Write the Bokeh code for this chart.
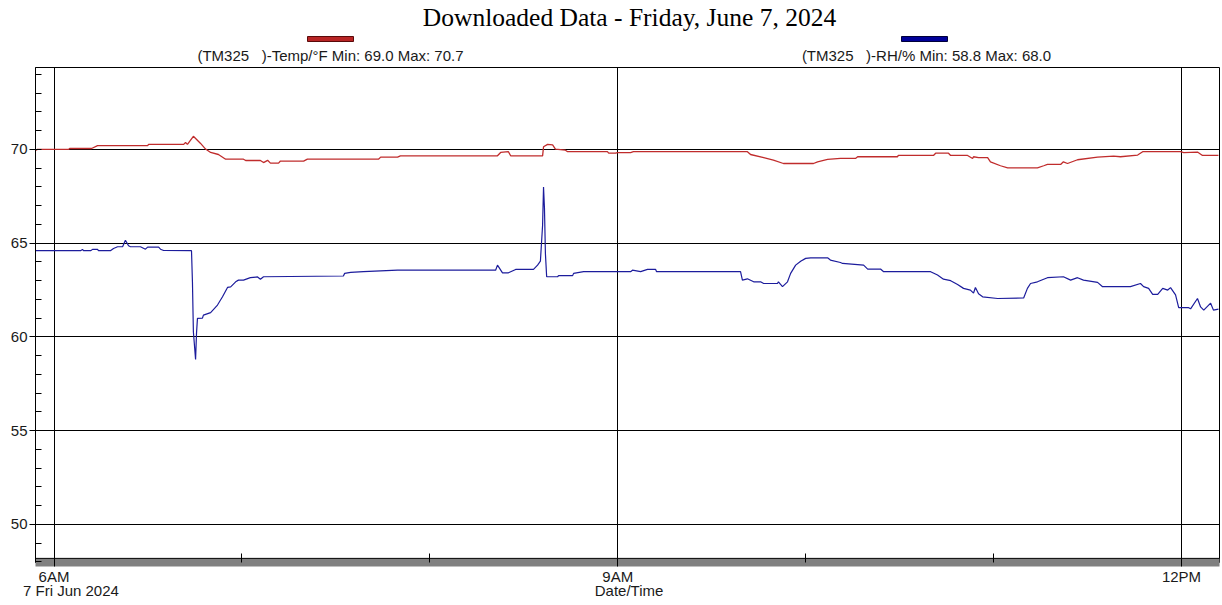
from bokeh.plotting import figure
from bokeh.layouts import column
from bokeh.models import (Range1d, FixedTicker, SingleIntervalTicker, LinearAxis,
                          Grid, Span, ColumnDataSource)
from bokeh.core.properties import value
from bokeh.embed import file_html
from bokeh.resources import INLINE

# ---------------- data ----------------
title_text = "Downloaded Data - Friday, June 7, 2024"
NB = "\u00a0"
series_labels = ["(TM325" + NB * 3 + ")-Temp/°F Min: 69.0 Max: 70.7",
                 "(TM325" + NB * 3 + ")-RH/% Min: 58.8 Max: 68.0"]
date_label = "7 Fri Jun 2024"
x_axis_title = "Date/Time"

major_hours = [6, 9, 12]
major_hour_labels = ["6AM", "9AM", "12PM"]
minor_hours = [7, 8, 10, 11]

# minutes after 06:00 and Temperature (°F)
temp_minutes = [-5.9, -5.3, 4.6, 5.0, 12.0, 13.9, 29.9, 30.2, 41.4, 42.0,
                42.6, 44.5, 46.8, 48.4, 50.0, 52.5, 54.8, 60.5, 61.2, 65.9,
                66.9, 68.2, 69.1, 71.7, 72.3, 79.7, 80.9, 103.6, 104.3, 109.7,
                110.6, 141.6, 142.6, 145.1, 145.8, 156.0, 156.3, 157.6, 159.2, 160.1,
                163.3, 164.0, 176.7, 177.1, 179.3, 179.9, 184.1, 185.0, 221.4, 222.4,
                226.6, 229.7, 232.9, 242.5, 243.8, 247.0, 251.1, 255.9, 256.6, 269.3,
                269.6, 280.8, 281.5, 285.6, 286.3, 291.7, 293.3, 293.6, 295.2, 298.1,
                299.0, 302.2, 304.5, 314.0, 316.0, 317.2, 321.4, 322.3, 323.6, 326.8,
                333.2, 338.3, 340.5, 346.0, 347.6, 359.7, 360.7, 365.1, 366.7, 371.8]
temp_values = [69.95, 70.0, 70.0, 70.05, 70.05, 70.2, 70.2, 70.27, 70.27, 70.37,
               70.27, 70.7, 70.32, 70.02, 69.84, 69.73, 69.48, 69.48, 69.41, 69.41,
               69.3, 69.42, 69.27, 69.27, 69.38, 69.38, 69.48, 69.48, 69.59, 69.59,
               69.66, 69.66, 69.84, 69.88, 69.66, 69.66, 70.14, 70.27, 70.24, 70.02,
               69.96, 69.88, 69.88, 69.8, 69.8, 69.83, 69.83, 69.88, 69.88, 69.73,
               69.56, 69.43, 69.25, 69.25, 69.34, 69.47, 69.52, 69.52, 69.61, 69.61,
               69.68, 69.68, 69.8, 69.8, 69.68, 69.68, 69.52, 69.61, 69.56, 69.56,
               69.34, 69.13, 69.02, 69.02, 69.13, 69.2, 69.2, 69.34, 69.25, 69.45,
               69.59, 69.64, 69.61, 69.7, 69.88, 69.88, 69.83, 69.86, 69.68, 69.68]

# minutes after 06:00 and Relative humidity (%)
rh_minutes = [-5.9, 8.5, 9.1, 9.4, 11.7, 12.3, 13.9, 14.2, 18.0, 19.0,
              20.3, 21.9, 22.8, 23.8, 24.4, 27.6, 29.2, 29.9, 33.4, 34.0,
              35.0, 43.9, 44.2, 44.5, 45.2, 45.5, 45.8, 47.4, 47.7, 50.0,
              52.2, 53.8, 55.4, 56.4, 58.0, 58.9, 60.5, 62.7, 65.0, 65.9,
              66.9, 92.4, 92.8, 94.7, 98.8, 109.7, 141.0, 141.6, 143.2, 145.1,
              147.4, 153.1, 154.4, 155.3, 156.0, 156.3, 156.6, 156.9, 157.3, 160.8,
              161.1, 165.6, 165.9, 169.1, 184.1, 184.7, 187.3, 189.5, 192.1, 192.4,
              219.2, 219.8, 221.4, 223.4, 225.6, 226.6, 231.0, 231.3, 232.6, 234.2,
              235.2, 236.8, 238.4, 240.0, 241.6, 247.0, 247.9, 251.1, 251.8, 258.5,
              259.8, 263.9, 264.9, 279.9, 282.1, 284.0, 286.3, 288.5, 290.4, 292.6,
              293.6, 294.2, 295.2, 296.5, 301.3, 309.6, 310.8, 311.8, 314.0, 317.2,
              322.3, 324.6, 326.8, 328.7, 333.2, 334.8, 343.7, 346.9, 347.9, 349.5,
              350.8, 352.4, 354.0, 355.6, 356.5, 358.1, 359.1, 362.3, 362.9, 365.1,
              366.1, 367.1, 369.3, 370.2, 371.8]
rh_values = [64.6, 64.6, 64.67, 64.6, 64.6, 64.67, 64.67, 64.6, 64.6, 64.72,
             64.81, 64.81, 65.16, 64.86, 64.81, 64.81, 64.68, 64.79, 64.79, 64.68,
             64.61, 64.6, 62.94, 60.28, 58.8, 60.19, 60.99, 61.0, 61.16, 61.3,
             61.7, 62.14, 62.64, 62.67, 62.94, 63.03, 63.03, 63.16, 63.2, 63.08,
             63.21, 63.25, 63.39, 63.44, 63.48, 63.56, 63.56, 63.83, 63.42, 63.42,
             63.6, 63.6, 63.83, 64.04, 65.96, 68.0, 66.85, 64.45, 63.21, 63.21,
             63.27, 63.27, 63.39, 63.48, 63.48, 63.56, 63.48, 63.6, 63.6, 63.48,
             63.48, 63.03, 63.1, 62.94, 62.94, 62.85, 62.85, 62.94, 62.68, 62.94,
             63.39, 63.83, 64.04, 64.19, 64.22, 64.22, 64.1, 63.97, 63.92, 63.83,
             63.62, 63.62, 63.48, 63.48, 63.3, 63.08, 63.0, 62.8, 62.59, 62.5,
             62.34, 62.64, 62.3, 62.14, 62.05, 62.08, 62.59, 62.85, 62.94, 63.16,
             63.21, 63.03, 63.16, 63.03, 62.91, 62.68, 62.68, 62.85, 62.68, 62.59,
             62.27, 62.27, 62.59, 62.5, 62.63, 62.24, 61.56, 61.56, 61.5, 62.05,
             61.6, 61.43, 61.8, 61.43, 61.48]

# ---------------- styling ----------------
RED = "#C02C2C"
BLUE = "#1C1C9C"
SERIES_COLORS = [RED, BLUE]
BAR_FILL = ["#B82424", "#000099"]
BAR_EDGE = ["#5a0a0a", "#00003a"]
SANS = "Liberation Sans"
SERIF = "Liberation Serif"
TXT = "#1a1a1a"
W = 1222
TOP_H = 67
MAIN_H = 605 - TOP_H
FRAME_L, FRAME_R = 35, 1219

# ---------------- header: title and legend ----------------
# the column aligns this figure's frame with the chart frame below,
# so its x range is expressed in page pixels of that frame
head = figure(width=W, height=TOP_H, output_backend="svg", toolbar_location=None,
              x_range=Range1d(FRAME_L, FRAME_R), y_range=Range1d(TOP_H, 0),
              x_axis_type=None, y_axis_type=None,
              min_border_left=0, min_border_right=0, min_border_top=0,
              min_border_bottom=0)
head.outline_line_color = None
head.grid.visible = False
head.background_fill_color = "white"
head.border_fill_color = "white"

head.text(x=[629], y=[17], text=[title_text], text_align="center",
          text_baseline="middle", text_font=value(SERIF),
          text_font_size="25.5px", text_color="black")
legend_cx = [330, 924]
head.quad(left=[c - 23 for c in legend_cx], right=[c + 23 for c in legend_cx],
          top=[36, 36], bottom=[41, 41], fill_color=BAR_FILL, line_color=BAR_EDGE,
          line_width=1)
head.text(x=[330, 926], y=[55, 55], text=series_labels, text_align="center",
          text_baseline="middle", text_font=value(SANS),
          text_font_size="15px", text_color=TXT)

# ---------------- main chart ----------------
temp_src = ColumnDataSource(dict(hour=[6 + m / 60 for m in temp_minutes], v=temp_values))
rh_src = ColumnDataSource(dict(hour=[6 + m / 60 for m in rh_minutes], v=rh_values))

Y_TOP, Y_BOT, Y_FRAME_BOT = 74.37, 48.19, 47.97

p = figure(width=W, height=MAIN_H, output_backend="svg", toolbar_location=None,
           x_range=Range1d(5.9015, 12.2022), y_range=Range1d(Y_FRAME_BOT, Y_TOP),
           x_axis_location=None,
           min_border_left=FRAME_L, min_border_right=W - FRAME_R, min_border_top=0,
           min_border_bottom=43)
p.background_fill_color = "white"
p.border_fill_color = "white"
p.outline_line_color = "black"
p.outline_line_width = 1
p.xgrid.grid_line_color = None  # default grid off; vertical lines only at 6/9/12

# gray shadow strip under the frame (axis line only)
shadow = LinearAxis(ticker=FixedTicker(ticks=[]), axis_line_color="#808080",
                    axis_line_width=8, major_tick_line_color=None,
                    minor_tick_line_color=None, major_label_text_font_size="0px",
                    major_tick_out=0, major_tick_in=0, major_label_standoff=0)
p.add_layout(shadow, "below")

# time axis
xaxis = LinearAxis(ticker=FixedTicker(ticks=major_hours, minor_ticks=minor_hours))
xaxis.major_label_overrides = dict(zip(major_hours, major_hour_labels))
xaxis.axis_line_color = None
xaxis.major_tick_out = 4
xaxis.major_tick_in = 4
xaxis.minor_tick_in = 9
xaxis.minor_tick_out = 0
xaxis.major_tick_line_color = "black"
xaxis.minor_tick_line_color = "black"
xaxis.major_label_standoff = 1
xaxis.major_label_text_font = SANS
xaxis.major_label_text_font_size = "15px"
xaxis.major_label_text_color = TXT
p.add_layout(xaxis, "below")

# second text row under the time axis: date and axis title
row_ticks = [6.09, 9.06]
row_axis = LinearAxis(ticker=FixedTicker(ticks=row_ticks))
row_axis.major_label_overrides = dict(zip(row_ticks, [date_label, x_axis_title]))
row_axis.axis_line_color = None
row_axis.major_tick_line_color = None
row_axis.minor_tick_line_color = None
row_axis.major_tick_out = 0
row_axis.major_tick_in = 0
row_axis.major_label_standoff = -6
row_axis.major_label_text_font = SANS
row_axis.major_label_text_font_size = "15px"
row_axis.major_label_text_color = TXT
p.add_layout(row_axis, "below")

p.add_layout(Grid(dimension=0, ticker=FixedTicker(ticks=major_hours),
                  grid_line_color="black", grid_line_width=1))

# y axis
p.yaxis.ticker = SingleIntervalTicker(interval=5, num_minor_ticks=5)
p.yaxis.major_tick_out = 6
p.yaxis.major_tick_in = 0
p.yaxis.minor_tick_in = 6
p.yaxis.minor_tick_out = 0
p.yaxis.major_tick_line_color = "black"
p.yaxis.minor_tick_line_color = "black"
p.yaxis.axis_line_color = "black"
p.yaxis.major_label_standoff = 2
p.yaxis.major_label_text_font = SANS
p.yaxis.major_label_text_font_size = "15px"
p.yaxis.major_label_text_color = TXT
p.ygrid.grid_line_color = "black"
p.ygrid.grid_line_width = 1

# visible bottom border of the plot box (the frame continues under the shadow)
p.add_layout(Span(location=Y_BOT, dimension="width", line_color="black",
                  line_width=1))

# data lines
p.line("hour", "v", source=temp_src, line_color=SERIES_COLORS[0], line_width=1.3)
p.line("hour", "v", source=rh_src, line_color=SERIES_COLORS[1], line_width=1.2)

layout = column(head, p, spacing=0)
open("out.html", "w").write(file_html(layout, INLINE))
